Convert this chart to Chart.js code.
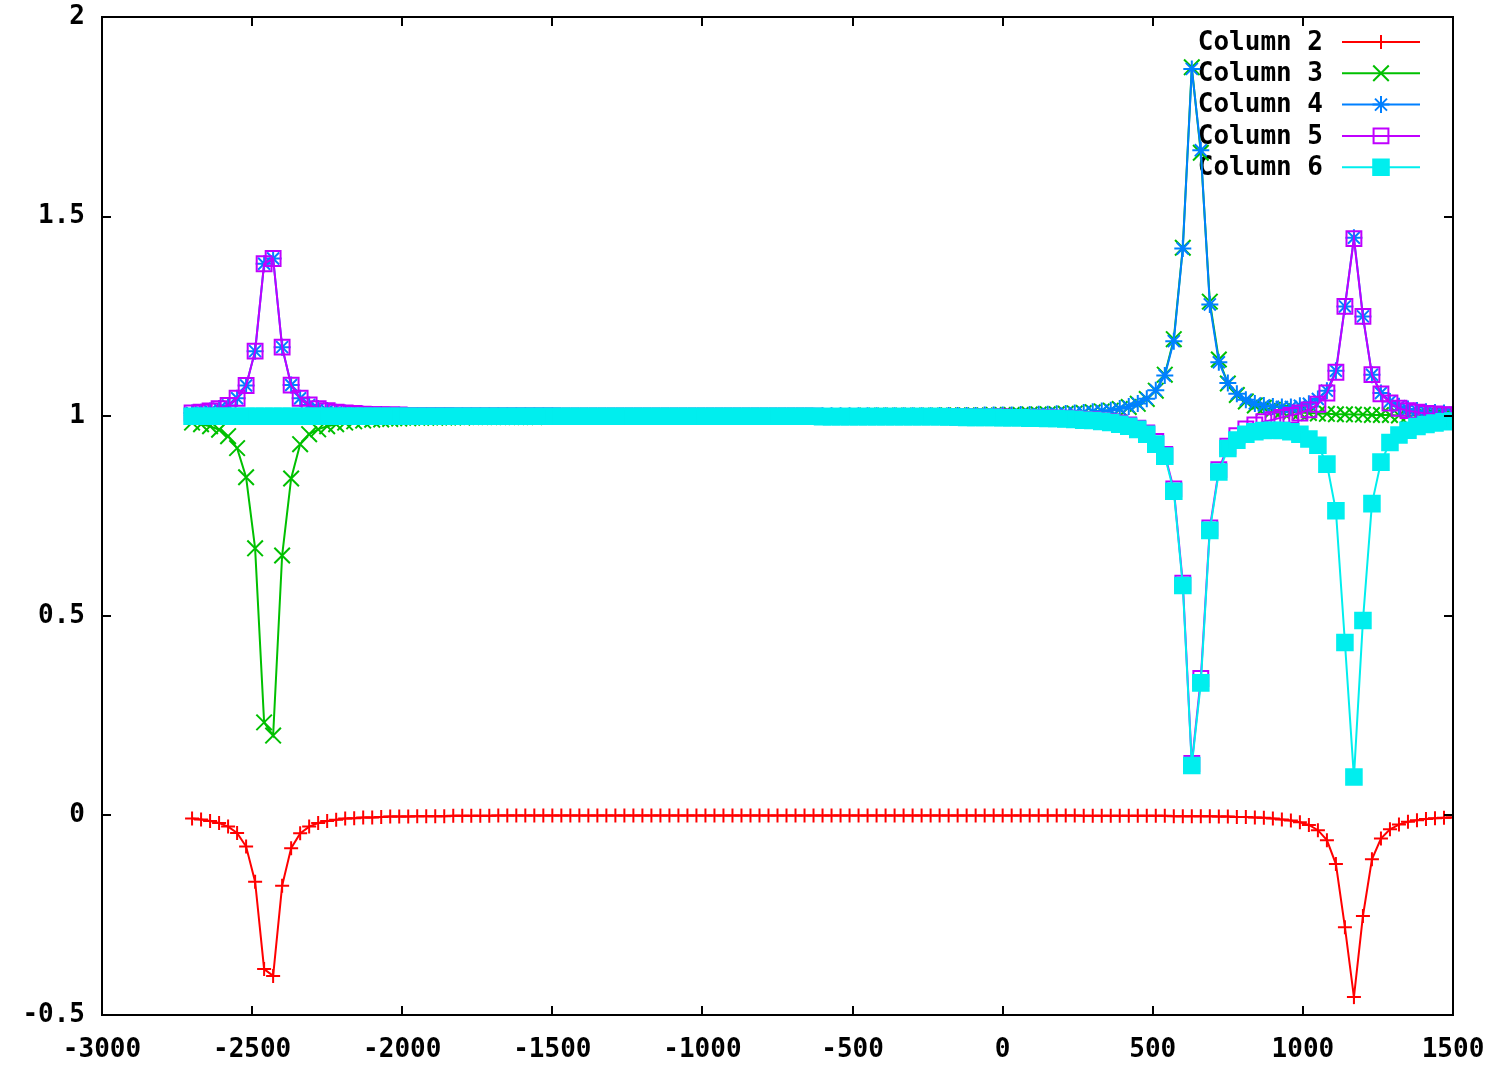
<!DOCTYPE html>
<html>
<head>
<meta charset="utf-8">
<title>Columns 2-6</title>
<script src="https://cdn.jsdelivr.net/npm/chart.js"></script>
<style>
  html, body { margin: 0; padding: 0; background: #fff; }
  canvas { display: block; }
</style>
</head>
<body>
<canvas id="plot" width="1498" height="1065"></canvas>
<script>
// sample positions (column 1)
const xValues = [
  -2700, -2670, -2640, -2610, -2580, -2550, -2520, -2490, -2460, -2430,
  -2400, -2370, -2340, -2310, -2280, -2250, -2220, -2190, -2160, -2130,
  -2100, -2070, -2040, -2010, -1980, -1950, -1920, -1890, -1860, -1830,
  -1800, -1770, -1740, -1710, -1680, -1650, -1620, -1590, -1560, -1530,
  -1500, -1470, -1440, -1410, -1380, -1350, -1320, -1290, -1260, -1230,
  -1200, -1170, -1140, -1110, -1080, -1050, -1020, -990, -960, -930,
  -900, -870, -840, -810, -780, -750, -720, -690, -660, -630,
  -600, -570, -540, -510, -480, -450, -420, -390, -360, -330,
  -300, -270, -240, -210, -180, -150, -120, -90, -60, -30,
  0, 30, 60, 90, 120, 150, 180, 210, 240, 270,
  300, 330, 360, 390, 420, 450, 480, 510, 540, 570,
  600, 630, 660, 690, 720, 750, 780, 810, 840, 870,
  900, 930, 960, 990, 1020, 1050, 1080, 1110, 1140, 1170,
  1200, 1230, 1260, 1290, 1320, 1350, 1380, 1410, 1440, 1470,
  1500
];

const column2 = [
  -0.008, -0.010, -0.014, -0.019, -0.028, -0.044, -0.078, -0.166, -0.385, -0.402,
  -0.176, -0.082, -0.045, -0.028, -0.019, -0.014, -0.011, -0.008, -0.007, -0.005,
  -0.005, -0.004, -0.003, -0.003, -0.003, -0.002, -0.002, -0.002, -0.002, -0.001,
  -0.001, -0.001, -0.001, -0.001, 0, 0, 0, 0, 0, 0,
  0, 0, 0, 0, 0, 0, 0, 0, 0, 0,
  0, 0, 0, 0, 0, 0, 0, 0, 0, 0,
  0, 0, 0, 0, 0, 0, 0, 0, 0, 0,
  0, 0, 0, 0, 0, 0, 0, 0, 0, 0,
  0, 0, 0, 0, 0, 0, 0, 0, 0, 0,
  0, 0, 0, 0, 0, 0, 0, 0, 0, -0.001,
  -0.001, -0.001, -0.001, -0.001, -0.001, -0.001, -0.001, -0.001, -0.001, -0.002,
  -0.002, -0.002, -0.002, -0.002, -0.003, -0.003, -0.004, -0.004, -0.005, -0.006,
  -0.008, -0.010, -0.013, -0.017, -0.024, -0.037, -0.062, -0.122, -0.280, -0.455,
  -0.252, -0.110, -0.058, -0.035, -0.023, -0.016, -0.012, -0.009, -0.007, -0.006,
  -0.005
];

const column3 = [
  0.984, 0.980, 0.975, 0.966, 0.950, 0.920, 0.847, 0.669, 0.233, 0.200,
  0.651, 0.844, 0.930, 0.955, 0.967, 0.975, 0.980, 0.984, 0.987, 0.989,
  0.991, 0.992, 0.993, 0.994, 0.995, 0.996, 0.996, 0.996, 0.997, 0.997,
  0.997, 0.998, 0.998, 0.998, 0.998, 0.998, 0.998, 0.998, 0.998, 0.999,
  0.999, 0.999, 0.999, 0.999, 0.999, 0.999, 0.999, 0.999, 0.999, 0.999,
  0.999, 0.999, 0.999, 0.999, 0.999, 0.999, 1, 1, 1, 1,
  1, 1, 1, 1, 1, 1, 1, 1, 1, 1,
  1, 1, 1, 1, 1, 1.001, 1.001, 1.001, 1.001, 1.001,
  1.001, 1.001, 1.001, 1.001, 1.002, 1.002, 1.002, 1.002, 1.002, 1.003,
  1.003, 1.003, 1.003, 1.004, 1.004, 1.005, 1.005, 1.006, 1.007, 1.008,
  1.010, 1.012, 1.014, 1.018, 1.023, 1.031, 1.043, 1.064, 1.104, 1.193,
  1.422, 1.874, 1.660, 1.287, 1.142, 1.082, 1.053, 1.037, 1.027, 1.021,
  1.016, 1.013, 1.011, 1.009, 1.008, 1.007, 1.006, 1.005, 1.005, 1.004,
  1.004, 1.003, 1.003, 1.003, 1.002, 1.002, 1.002, 1.002, 1.002, 1.002,
  1.002
];

const column4 = [
  1.008, 1.010, 1.013, 1.019, 1.027, 1.045, 1.077, 1.163, 1.382, 1.395,
  1.173, 1.078, 1.045, 1.028, 1.019, 1.014, 1.010, 1.008, 1.007, 1.005,
  1.004, 1.004, 1.003, 1.003, 1.002, 1.002, 1.002, 1.002, 1.002, 1.001,
  1.001, 1.001, 1.001, 1.001, 1.001, 1.001, 1.001, 1.001, 1.001, 1.001,
  1.001, 1, 1, 1, 1, 1, 1, 1, 1, 1,
  1, 1, 1, 1, 1, 1, 1, 1, 1, 1,
  1, 1, 1, 1, 1, 1, 1, 1, 1, 1,
  1.001, 1.001, 1.001, 1.001, 1.001, 1.001, 1.001, 1.001, 1.001, 1.001,
  1.001, 1.001, 1.001, 1.002, 1.002, 1.002, 1.002, 1.002, 1.003, 1.003,
  1.003, 1.003, 1.004, 1.004, 1.005, 1.005, 1.006, 1.007, 1.008, 1.009,
  1.011, 1.013, 1.015, 1.019, 1.024, 1.032, 1.044, 1.065, 1.102, 1.188,
  1.420, 1.870, 1.666, 1.280, 1.135, 1.083, 1.056, 1.041, 1.032, 1.027,
  1.024, 1.023, 1.023, 1.026, 1.031, 1.043, 1.064, 1.114, 1.275, 1.447,
  1.250, 1.104, 1.058, 1.037, 1.025, 1.018, 1.014, 1.011, 1.009, 1.008,
  1.006
];

const column5 = [
  1.008, 1.010, 1.013, 1.019, 1.027, 1.045, 1.077, 1.163, 1.382, 1.395,
  1.173, 1.078, 1.045, 1.028, 1.019, 1.014, 1.010, 1.008, 1.007, 1.005,
  1.004, 1.004, 1.003, 1.003, 1.002, 1.002, 1.002, 1.002, 1.002, 1.001,
  1.001, 1.001, 1.001, 1.001, 1.001, 1.001, 1.001, 1.001, 1.001, 1.001,
  1.001, 1, 1, 1, 1, 1, 1, 1, 1, 1,
  1, 1, 1, 1, 1, 1, 1, 1, 1, 1,
  1, 1, 1, 1, 1, 1, 1, 1, 1, 1,
  0.999, 0.999, 0.999, 0.999, 0.999, 0.999, 0.999, 0.999, 0.999, 0.999,
  0.999, 0.999, 0.999, 0.999, 0.999, 0.998, 0.998, 0.998, 0.998, 0.998,
  0.998, 0.997, 0.997, 0.997, 0.996, 0.996, 0.995, 0.995, 0.994, 0.992,
  0.991, 0.989, 0.986, 0.983, 0.978, 0.970, 0.958, 0.937, 0.904, 0.818,
  0.582, 0.130, 0.343, 0.720, 0.866, 0.925, 0.951, 0.968, 0.978, 0.986,
  0.991, 0.997, 1.002, 1.008, 1.016, 1.030, 1.058, 1.110, 1.275, 1.445,
  1.250, 1.104, 1.056, 1.033, 1.020, 1.014, 1.010, 1.007, 1.006, 1.004,
  1.003
];

const column6 = [
  1, 1, 1, 1, 1, 1, 1, 1, 1, 1,
  1, 1, 1, 1, 1, 1, 1, 1, 1, 1,
  1, 1, 1, 1, 1, 1, 1, 1, 1, 1,
  1, 1, 1, 1, 1, 1, 1, 1, 1, 1,
  1, 1, 1, 1, 1, 1, 1, 1, 1, 1,
  1, 1, 1, 1, 1, 1, 1, 1, 1, 1,
  1, 1, 1, 1, 1, 1, 1, 1, 1, 1,
  0.999, 0.999, 0.999, 0.999, 0.999, 0.999, 0.999, 0.999, 0.999, 0.999,
  0.999, 0.999, 0.999, 0.999, 0.998, 0.998, 0.997, 0.997, 0.997, 0.997,
  0.996, 0.996, 0.996, 0.995, 0.995, 0.994, 0.994, 0.993, 0.992, 0.990,
  0.989, 0.987, 0.984, 0.980, 0.975, 0.967, 0.955, 0.930, 0.900, 0.812,
  0.576, 0.125, 0.332, 0.714, 0.860, 0.919, 0.940, 0.955, 0.961, 0.964,
  0.965, 0.964, 0.961, 0.955, 0.943, 0.927, 0.880, 0.763, 0.433, 0.096,
  0.488, 0.781, 0.885, 0.934, 0.953, 0.965, 0.974, 0.979, 0.983, 0.986,
  0.988
];

const seriesNames = ['Column 2', 'Column 3', 'Column 4', 'Column 5', 'Column 6'];
const seriesColors = ['#ff0000', '#00c000', '#0080ff', '#c000ff', '#00eeee'];
const xTicks = [-3000, -2500, -2000, -1500, -1000, -500, 0, 500, 1000, 1500];
const yTicks = [-0.5, 0, 0.5, 1, 1.5, 2];

const tickFont = { family: 'DejaVu Sans Mono', size: 26, weight: 'bold' };

// gnuplot-like point types
const markers = [
  { style: 'cross', radius: 7, fill: false },
  { style: 'crossRot', radius: 11, fill: false },
  { style: 'star', radius: 8.5, fill: false },
  { style: 'rect', radius: 10.5, fill: false },
  { style: 'rect', radius: 11, fill: true }
];

const seriesValues = [column2, column3, column4, column5, column6];

const datasets = seriesValues.map((vals, i) => ({
  label: seriesNames[i],
  data: xValues.map((x, j) => ({ x: x, y: vals[j] })),
  borderColor: seriesColors[i],
  borderWidth: 2,
  pointStyle: markers[i].style,
  pointRadius: markers[i].radius,
  pointBorderWidth: 2,
  pointBorderColor: seriesColors[i],
  pointBackgroundColor: markers[i].fill ? seriesColors[i] : 'rgba(0,0,0,0)',
  fill: false,
  tension: 0,
  order: 5 - i   // later columns drawn on top
}));

function drawMarker(ctx, style, x, y, r, color, filled) {
  ctx.save();
  ctx.strokeStyle = color;
  ctx.fillStyle = color;
  ctx.lineWidth = 2;
  ctx.beginPath();
  const d = r * Math.SQRT1_2;
  if (style === 'cross' || style === 'star') {
    ctx.moveTo(x - r, y); ctx.lineTo(x + r, y);
    ctx.moveTo(x, y - r); ctx.lineTo(x, y + r);
  }
  if (style === 'crossRot' || style === 'star') {
    ctx.moveTo(x - d, y - d); ctx.lineTo(x + d, y + d);
    ctx.moveTo(x - d, y + d); ctx.lineTo(x + d, y - d);
  }
  if (style === 'rect') {
    ctx.rect(x - d, y - d, 2 * d, 2 * d);
    if (filled) ctx.fill();
  }
  ctx.stroke();
  ctx.restore();
}

// key in the top right corner, drawn under the data like gnuplot
const keyPlugin = {
  id: 'key',
  beforeDatasetsDraw(chart) {
    const ctx = chart.ctx;
    const area = chart.chartArea;
    ctx.save();
    ctx.font = 'bold 26px "DejaVu Sans Mono"';
    ctx.textAlign = 'right';
    ctx.textBaseline = 'middle';
    seriesNames.forEach((name, i) => {
      const y = area.top + 25 + i * 31.3;
      ctx.fillStyle = '#000';
      ctx.fillText(name, area.right - 130, y + 1);
      ctx.strokeStyle = seriesColors[i];
      ctx.lineWidth = 2;
      ctx.beginPath();
      ctx.moveTo(area.right - 111, y);
      ctx.lineTo(area.right - 33, y);
      ctx.stroke();
      drawMarker(ctx, markers[i].style, area.right - 72, y, markers[i].radius, seriesColors[i], markers[i].fill);
    });
    ctx.restore();
  }
};

// border with inward tics on all four sides
const framePlugin = {
  id: 'frame',
  afterDatasetsDraw(chart) {
    const ctx = chart.ctx;
    const a = chart.chartArea;
    const sx = chart.scales.x, sy = chart.scales.y;
    const len = 9;
    ctx.save();
    ctx.strokeStyle = '#000';
    ctx.lineWidth = 2;
    ctx.strokeRect(a.left, a.top, a.right - a.left, a.bottom - a.top);
    ctx.beginPath();
    xTicks.forEach(v => {
      const px = Math.round(sx.getPixelForValue(v));
      ctx.moveTo(px, a.bottom); ctx.lineTo(px, a.bottom - len);
      ctx.moveTo(px, a.top); ctx.lineTo(px, a.top + len);
    });
    yTicks.forEach(v => {
      const py = Math.round(sy.getPixelForValue(v));
      ctx.moveTo(a.left, py); ctx.lineTo(a.left + len, py);
      ctx.moveTo(a.right, py); ctx.lineTo(a.right - len, py);
    });
    ctx.stroke();
    ctx.restore();
  }
};

new Chart(document.getElementById('plot'), {
  type: 'line',
  data: { datasets: datasets },
  options: {
    responsive: false,
    animation: false,
    events: [],
    devicePixelRatio: 1,
    layout: { padding: { top: 17, right: 45, left: 0, bottom: 0 } },
    plugins: {
      legend: { display: false },
      tooltip: { enabled: false }
    },
    scales: {
      x: {
        type: 'linear',
        min: -3000,
        max: 1500,
        afterFit: s => { s.height = 50; s.paddingLeft = 0; s.paddingRight = 0; },
        afterBuildTicks: s => { s.ticks = xTicks.map(v => ({ value: v })); },
        grid: { display: false, drawTicks: false },
        border: { display: false },
        ticks: {
          padding: 20,
          maxRotation: 0,
          autoSkip: false,
          color: '#000',
          font: tickFont,
          callback: v => String(v)
        }
      },
      y: {
        type: 'linear',
        min: -0.5,
        max: 2,
        afterFit: s => { s.width = 102; s.paddingTop = 0; s.paddingBottom = 0; },
        afterBuildTicks: s => { s.ticks = yTicks.map(v => ({ value: v })); },
        grid: { display: false, drawTicks: false },
        border: { display: false },
        ticks: {
          padding: 17,
          color: '#000',
          font: tickFont,
          callback: v => String(v)
        }
      }
    }
  },
  plugins: [keyPlugin, framePlugin]
});
</script>
</body>
</html>
